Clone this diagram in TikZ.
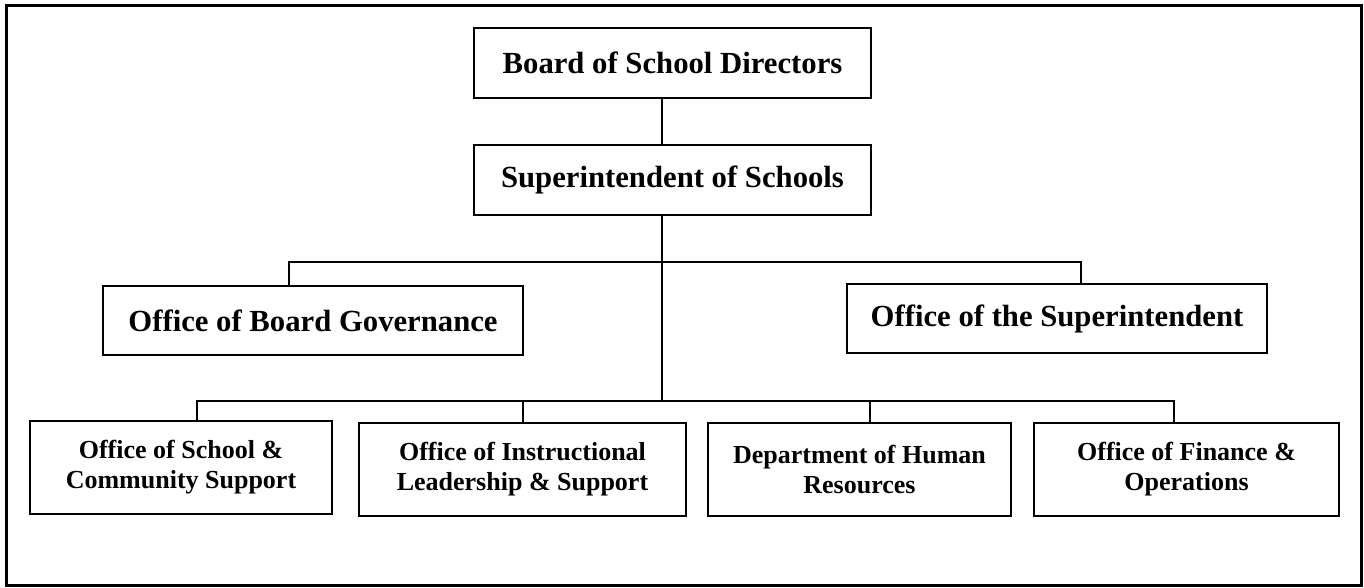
\documentclass[tikz,border=0pt]{standalone}
\usepackage{fontspec}
\setmainfont{Liberation Serif}
\begin{document}
\begin{tikzpicture}[x=1pt,y=-1pt,
  orgbox/.style={draw, line width=2pt, inner sep=0pt, align=center, font=\bfseries\fontsize{30.7}{36}\selectfont},
  smallbox/.style={draw, line width=2pt, inner sep=0pt, align=center, minimum width=#1, minimum height=93pt, font=\bfseries\fontsize{26}{30}\selectfont},
  link/.style={line width=2pt}]
\useasboundingbox (0,0) rectangle (1364,587);
\draw[line width=3pt] (6,5) rectangle (1361,585);

\node[orgbox, minimum width=397pt, minimum height=70pt] (board) at (672.5,63) {Board of School Directors};
\node[orgbox, minimum width=397pt, minimum height=70pt] (sup) at (672.5,180) {Superintendent of Schools};
\node[orgbox, minimum width=420pt, minimum height=69pt] (gov) at (313,320.5) {Office of Board Governance};
\node[orgbox, minimum width=420pt, minimum height=69pt] (osup) at (1057,318.5) {Office of the Superintendent};

\node[smallbox=302pt] (b1) at (181,467) {Office of School \&\\Community Support};
\node[smallbox=327pt] (b2) at (522.5,469.5) {Office of Instructional\\Leadership \& Support};
\node[smallbox=303pt] (b3) at (859.5,469.5) {Department of Human\\Resources};
\node[smallbox=305pt] (b4) at (1186.5,469.5) {Office of Finance \&\\Operations};

\coordinate (j1) at (662,262);
\coordinate (j2) at (662,401);

\draw[link] (board.south -| j1) -- (sup.north -| j1);
\draw[link] (sup.south -| j1) -- (j2);
\draw[link] ([xshift=-24pt]gov.north) |- (j1) -| ([xshift=24pt]osup.north);
\draw[link] ([xshift=16pt]b1.north) |- (j2) -| ([xshift=-12.5pt]b4.north);
\draw[link] (b2.north) -- (b2.north |- j2);
\draw[link] ([xshift=10.5pt]b3.north) -- ([xshift=10.5pt]b3.north |- j2);
\end{tikzpicture}
\end{document}
